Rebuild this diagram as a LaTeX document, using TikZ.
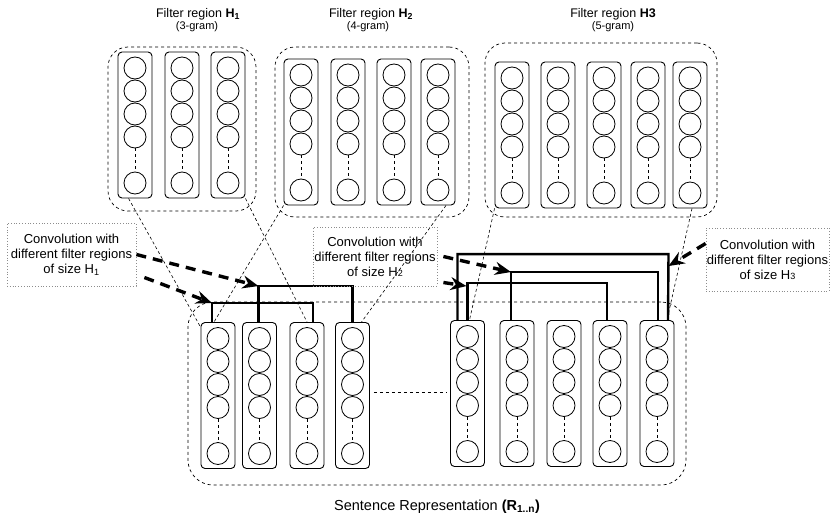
\documentclass[tikz,border=0pt]{standalone}
\usepackage{fontspec}
\setmainfont{Liberation Sans}
\usetikzlibrary{arrows.meta,positioning}

\tikzset{
  unit/.style={draw,circle,line width=0.8pt,minimum size=22pt,inner sep=0pt},
  wordcol/.style={draw,rounded corners=4pt,line width=0.9pt,minimum width=34pt,minimum height=146pt,inner sep=0pt},
  grpbox/.style={draw,dashed,line width=0.7pt,rounded corners=20pt,inner sep=0pt},
  projline/.style={line width=0.6pt,dash pattern=on 3pt off 2.5pt},
  bracket/.style={line width=2.4pt},
  convarrow/.style={line width=3.4pt,dash pattern=on 10pt off 7pt,-{Stealth[length=16pt,width=13pt]}},
  convbox/.style={draw=black!45,dotted,line width=0.8pt,align=center,inner sep=0pt,font=\fontsize{13pt}{15pt}\selectfont},
  titletext/.style={font=\fontsize{12.5pt}{14pt}\selectfont},
  gramtext/.style={font=\fontsize{11pt}{12pt}\selectfont},
  pics/wordvec/.style={code={
    \node[wordcol] (-box) at (0,0) {};
    \foreach \k in {1,...,4}
      \node[unit] (-u\k) at (0,{23*\k-80}) {};
    \node[unit] (-u5) at (0,58) {};
    \draw[dashed,line width=0.7pt] (-u4) -- (-u5);
  }}
}

\begin{document}
\begin{tikzpicture}[x=1pt,y=-1pt]
        \useasboundingbox (0,0) rectangle (832,519);
        \node[titletext] (titleH1) at (198,14) {Filter region \textbf{H\textsubscript{1}}};
        \node[gramtext] (gramH1) at (197,27) {(3-gram)};
        \node[titletext] (titleH2) at (371,14) {Filter region \textbf{H\textsubscript{2}}};
        \node[gramtext] (gramH2) at (368,27) {(4-gram)};
        \node[titletext] (titleH3) at (613,14) {Filter region \textbf{H3}};
        \node[gramtext] (gramH3) at (613,27) {(5-gram)};
        \node[grpbox,minimum width=148pt,minimum height=164pt] (grpH1) at (182,129) {};
        \node[grpbox,minimum width=194pt,minimum height=170pt] (grpH2) at (372,132) {};
        \node[grpbox,minimum width=232pt,minimum height=174pt] (grpH3) at (601,130) {};
        \node[grpbox,rounded corners=25pt,minimum width=498pt,minimum height=183pt] (sentgrp) at (437,393.5) {};
        \foreach \x [count=\i] in {135,182,228} \pic (ha\i) at (\x,125) {wordvec};
        \foreach \x [count=\i] in {301,348,394,438} \pic (hb\i) at (\x,132) {wordvec};
        \foreach \x [count=\i] in {512,558,604,648,690} \pic (hc\i) at (\x,135) {wordvec};
        \foreach \x [count=\i] in {218,259.5,307,352.5} \pic (ra\i) at (\x,395.5) {wordvec};
        \foreach \x [count=\i] in {467.5,517,564,610,657} \pic (rb\i) at (\x,393.5) {wordvec};
        \draw[dashed,line width=0.7pt] ([xshift=4pt,yshift=3.5pt]ra4-box.east) -- ([xshift=-3pt,yshift=1.5pt]rb1-box.west);
        \node[font=\fontsize{14.5pt}{16pt}\selectfont] (senttext) at (437,507) {Sentence Representation \textbf{(R\textsubscript{1..n})}};
        \draw[projline] ([xshift=11pt]ha1-box.south west) -- ([yshift=-5pt]ra1-box.north west);
        \draw[projline] (ha3-box.south east) -- (ra3-box.north);
        \draw[projline] (hb1-box.south west) -- ([xshift=-4pt]ra1-box.north);
        \draw[projline] ([xshift=8pt]hb4-box.south) -- ([xshift=9pt]ra4-box.north);
        \draw[projline] (hc1-box.south west) -- ([xshift=2pt]rb1-box.north);
        \draw[projline] ([xshift=2pt]hc5-box.south) -- ([xshift=10pt]rb5-box.north);
        \draw[bracket] ([xshift=-6pt]ra1-box.north) -- ++(0,-19) coordinate (cornA) -| ([xshift=6pt]ra3-box.north);
        \draw[bracket] ([xshift=-1pt]ra2-box.north) -- ++(0,-36) coordinate (cornB) -| (ra4-box.north);
        \draw[bracket] ([xshift=-10pt]rb1-box.north) -- ++(0,-66) coordinate (cornC) -- ++(211,0) coordinate (cornC2) -- ([xshift=11pt]rb5-box.north);
        \draw[bracket] ([xshift=-6pt]rb2-box.north) -- ++(0,-48) coordinate (cornD) -| ([xshift=1pt]rb5-box.north);
        \draw[bracket] (rb1-box.north) -- ++(0,-37) coordinate (cornE) -| ([xshift=-3pt]rb4-box.north);
        \node[convbox,minimum width=129pt,minimum height=63pt] (conv1) at (71.5,254.5) {Convolution with\\different filter regions\\of size H\textsubscript{1}};
        \node[convbox,minimum width=124pt,minimum height=59pt] (conv2) at (375,256.5) {Convolution with\\different filter regions\\of size H{\fontsize{9pt}{9pt}\selectfont 2}};
        \node[convbox,minimum width=123pt,minimum height=63pt] (conv3) at (767.5,259.5) {Convolution with\\different filter regions\\of size H{\fontsize{9pt}{9pt}\selectfont 3}};
        \draw[convarrow] (conv1.east) -- (cornB);
        \draw[convarrow] ([xshift=8pt,yshift=-23pt]conv1.east) -- (cornA);
        \draw[convarrow] ([xshift=6pt]conv2.east) -- (cornD);
        \draw[convarrow] ([xshift=6pt,yshift=-26pt]conv2.east) -- ([xshift=-1pt,yshift=-3pt]cornE);
        \draw[convarrow] ([yshift=16pt]conv3.west) -- ([yshift=-12pt]cornC2);
      \end{tikzpicture}
\end{document}
